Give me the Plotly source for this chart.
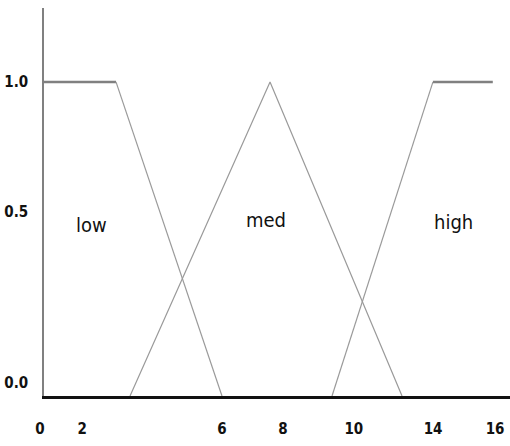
import plotly.graph_objects as go

# membership function vertices (x in axis units, y = membership degree)
low_x = [0, 2.43, 6.0]
low_y = [1.0, 1.0, 0.0]
med_x = [2.90, 7.62, 12.07]
med_y = [0.0, 1.0, 0.0]
high_x = [9.71, 13.11, 15.13]
high_y = [0.0, 1.0, 1.0]

# where the hand-placed tick labels sit
x_tick_pos = [0, 1.42, 6.13, 8.19, 10.58, 13.25, 15.34]
x_tick_text = ["0", "2", "6", "8", "10", "14", "16"]
y_tick_pos = [0.041, 0.586, 1.0]
y_tick_text = ["0.0", "0.5", "1.0"]

set_names = ["low", "med", "high"]
set_label_x = [1.6, 7.5, 13.8]
set_label_y = [0.545, 0.56, 0.555]

FONT = "DejaVu Sans Condensed, Liberation Sans Narrow, Roboto, sans-serif"
flat = dict(color="#808080", width=2.5)
slope = dict(color="#9a9a9a", width=1.2)

fig = go.Figure()

# flat tops (thick) and slopes (thin)
fig.add_trace(go.Scatter(x=low_x[:2], y=low_y[:2], mode="lines", line=flat))
fig.add_trace(go.Scatter(x=low_x[1:], y=low_y[1:], mode="lines", line=slope))
fig.add_trace(go.Scatter(x=med_x, y=med_y, mode="lines", line=slope))
fig.add_trace(go.Scatter(x=high_x[:2], y=high_y[:2], mode="lines", line=slope))
fig.add_trace(go.Scatter(x=high_x[1:], y=high_y[1:], mode="lines", line=flat))

for name, lx, ly in zip(set_names, set_label_x, set_label_y):
    fig.add_annotation(x=lx, y=ly, text=name, showarrow=False,
                       font=dict(family=FONT, size=20, color="#111111", weight="normal"))

tick_font = dict(family=FONT, size=15, color="#111111", weight="bold")

fig.update_layout(
    width=510,
    height=446,
    margin=dict(l=44, r=0, t=8, b=50),
    paper_bgcolor="white",
    plot_bgcolor="white",
    showlegend=False,
    font=dict(family=FONT, size=15, color="#111111"),
)

fig.update_xaxes(
    range=[0, 15.71],
    showgrid=False,
    zeroline=False,
    showline=True,
    linecolor="#111111",
    linewidth=2.5,
    tickmode="array",
    tickvals=x_tick_pos,
    ticktext=x_tick_text,
    tickfont=tick_font,
    ticks="",
    ticklabelshift=-4,
    ticklabelstandoff=17,
    ticklabeloverflow="allow",
)

fig.update_yaxes(
    range=[0, 1.236],
    showgrid=False,
    zeroline=False,
    showline=True,
    linecolor="#808080",
    linewidth=1.5,
    tickmode="array",
    tickvals=y_tick_pos,
    ticktext=y_tick_text,
    tickfont=tick_font,
    ticks="",
    ticklabelstandoff=11,
)

# drop the page's default body margin so the figure fills the window
fig.write_html(
    "out.html",
    config={"displayModeBar": False},
    post_script="document.body.style.margin='0';document.body.style.overflow='hidden';",
)
